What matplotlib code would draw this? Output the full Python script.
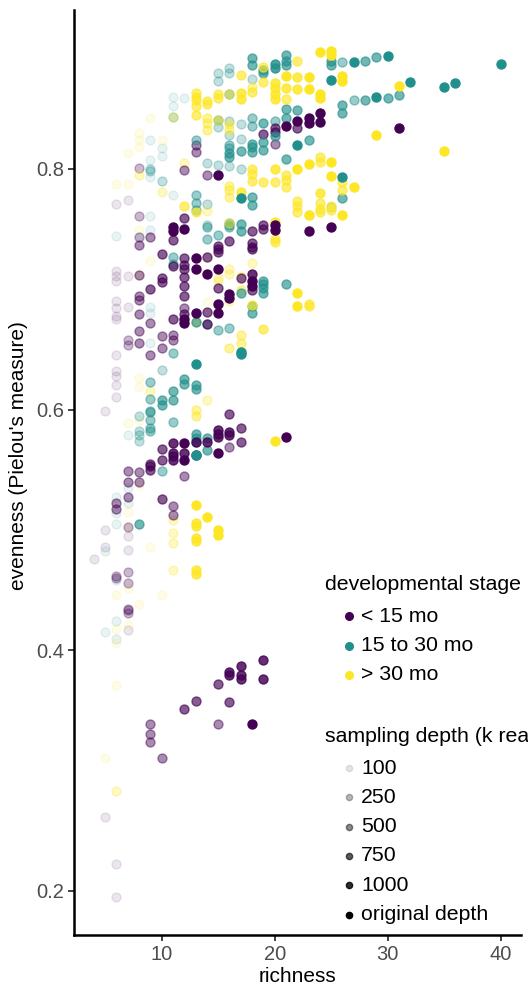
import matplotlib
matplotlib.use("Agg")
import matplotlib.pyplot as plt
from matplotlib.lines import Line2D
import pandas as pd

plt.rcParams["font.family"] = ["Liberation Sans", "DejaVu Sans"]

# (richness, evenness, sampling depth), one list per stage
pts_lt15 = [
    (5, 0.261, "100"), (6, 0.222, "100"), (6, 0.195, "100"), (7, 0.433, "250"), (7, 0.431, "250"), (7, 0.417, "100"),
    (9, 0.339, "500"), (9, 0.330, "500"), (9, 0.324, "500"), (10, 0.310, "500"), (12, 0.351, "750"), (13, 0.358, "750"),
    (15, 0.372, "750"), (15, 0.339, "500"), (16, 0.382, "1000"), (16, 0.379, "1000"), (16, 0.357, "750"),
    (17, 0.387, "1000"), (17, 0.379, "1000"), (17, 0.376, "1000"), (18, 0.339, "orig"), (19, 0.392, "1000"), (19, 0.376, "1000"),
    (4, 0.476, "100"), (5, 0.486, "100"), (5, 0.500, "100"), (5, 0.599, "100"),
    (6, 0.460, "250"), (6, 0.462, "250"), (6, 0.517, "500"), (6, 0.522, "500"),
    (7, 0.434, "250"), (7, 0.456, "250"), (7, 0.465, "250"), (7, 0.483, "100"), (7, 0.495, "100"), (7, 0.502, "250"),
    (7, 0.527, "500"), (7, 0.540, "500"), (7, 0.549, "500"), (8, 0.540, "500"), (8, 0.548, "500"),
    (9, 0.550, "750"), (9, 0.553, "750"), (9, 0.555, "750"), (10, 0.526, "750"), (10, 0.558, "750"), (10, 0.567, "750"),
    (11, 0.512, "500"), (11, 0.520, "500"), (11, 0.558, "1000"), (11, 0.561, "1000"), (11, 0.564, "1000"), (11, 0.572, "1000"),
    (12, 0.545, "500"), (12, 0.558, "orig"), (12, 0.564, "1000"), (12, 0.572, "orig"),
    (13, 0.562, "1000"), (13, 0.573, "1000"), (14, 0.573, "1000"),
    (15, 0.564, "orig"), (15, 0.577, "1000"), (15, 0.580, "1000"), (15, 0.583, "1000"),
    (16, 0.569, "500"), (16, 0.579, "1000"), (16, 0.581, "1000"), (16, 0.596, "750"),
    (17, 0.573, "750"), (17, 0.585, "750"), (21, 0.577, "orig"),
    (6, 0.610, "100"), (6, 0.620, "100"), (6, 0.628, "100"), (6, 0.632, "100"), (6, 0.645, "100"), (6, 0.675, "100"),
    (6, 0.678, "100"), (6, 0.684, "100"), (6, 0.690, "100"), (6, 0.707, "100"), (6, 0.711, "100"), (6, 0.715, "100"),
    (7, 0.654, "250"), (7, 0.658, "250"), (7, 0.685, "100"), (7, 0.711, "100"),
    (8, 0.655, "500"), (8, 0.665, "500"), (8, 0.679, "500"), (8, 0.691, "500"), (8, 0.694, "500"), (8, 0.712, "500"),
    (8, 0.737, "500"), (8, 0.743, "250"),
    (9, 0.645, "500"), (9, 0.672, "500"), (9, 0.700, "750"), (9, 0.743, "500"),
    (10, 0.651, "500"), (10, 0.661, "500"), (10, 0.706, "750"), (10, 0.709, "750"), (10, 0.729, "750"),
    (11, 0.658, "500"), (11, 0.662, "500"), (11, 0.675, "750"), (11, 0.719, "750"), (11, 0.741, "750"),
    (11, 0.748, "orig"), (11, 0.752, "orig"),
    (12, 0.672, "orig"), (12, 0.675, "orig"), (12, 0.679, "750"), (12, 0.684, "500"), (12, 0.694, "750"), (12, 0.703, "750"),
    (12, 0.710, "750"), (12, 0.717, "750"), (12, 0.720, "750"), (12, 0.726, "750"), (12, 0.750, "orig"),
    (13, 0.680, "orig"), (13, 0.717, "orig"), (13, 0.726, "orig"),
    (14, 0.671, "750"), (14, 0.681, "750"), (14, 0.713, "orig"), (14, 0.727, "750"),
    (15, 0.680, "orig"), (15, 0.688, "orig"), (15, 0.701, "750"), (15, 0.717, "orig"), (15, 0.731, "750"),
    (15, 0.733, "750"), (15, 0.736, "750"),
    (16, 0.693, "orig"), (16, 0.696, "orig"), (16, 0.740, "750"), (17, 0.709, "750"),
    (18, 0.699, "750"), (18, 0.703, "orig"), (18, 0.707, "orig"), (18, 0.713, "1000"), (18, 0.733, "750"),
    (18, 0.735, "750"), (18, 0.738, "750"), (18, 0.748, "750"),
    (19, 0.750, "750"), (19, 0.753, "750"), (20, 0.749, "orig"), (20, 0.753, "orig"), (23, 0.748, "orig"), (25, 0.752, "orig"),
    (6, 0.771, "100"), (7, 0.774, "100"), (8, 0.761, "250"), (8, 0.801, "250"),
    (12, 0.759, "750"), (12, 0.799, "500"), (13, 0.814, "500"), (13, 0.820, "500"), (14, 0.795, "500"), (15, 0.795, "orig"),
    (19, 0.829, "750"), (20, 0.821, "500"), (20, 0.831, "750"), (20, 0.834, "750"), (21, 0.836, "orig"),
    (22, 0.834, "750"), (22, 0.840, "orig"), (23, 0.838, "orig"), (23, 0.842, "orig"), (23, 0.762, "100"),
    (24, 0.839, "orig"), (24, 0.846, "orig"), (31, 0.834, "orig"),
]

pts_15to30 = [
    (5, 0.415, "100"), (6, 0.409, "100"), (6, 0.424, "100"),
    (5, 0.482, "100"), (6, 0.458, "100"), (6, 0.505, "100"), (6, 0.514, "100"), (6, 0.527, "100"),
    (7, 0.522, "100"), (7, 0.535, "100"), (7, 0.579, "100"),
    (8, 0.505, "750"), (8, 0.574, "250"), (8, 0.579, "250"), (8, 0.582, "250"), (8, 0.595, "250"),
    (9, 0.582, "500"), (9, 0.585, "500"), (9, 0.591, "500"), (9, 0.598, "500"),
    (10, 0.549, "500"), (11, 0.590, "500"),
    (13, 0.562, "orig"), (13, 0.573, "750"), (13, 0.576, "750"), (13, 0.580, "750"),
    (14, 0.566, "750"), (14, 0.576, "750"),
    (6, 0.744, "100"), (8, 0.743, "100"),
    (9, 0.599, "500"), (9, 0.609, "500"), (9, 0.623, "500"), (9, 0.655, "100"), (9, 0.680, "100"), (9, 0.685, "100"), (9, 0.749, "100"),
    (10, 0.604, "750"), (10, 0.608, "750"), (10, 0.633, "250"),
    (11, 0.608, "750"), (11, 0.615, "750"), (11, 0.647, "500"), (11, 0.721, "500"), (11, 0.727, "500"),
    (12, 0.621, "750"), (12, 0.625, "750"),
    (13, 0.617, "750"), (13, 0.620, "750"), (13, 0.638, "orig"), (13, 0.673, "750"),
    (14, 0.671, "500"), (14, 0.742, "500"), (14, 0.752, "500"), (15, 0.666, "500"), (15, 0.745, "500"),
    (16, 0.668, "500"), (16, 0.753, "500"),
    (17, 0.646, "orig"), (17, 0.648, "orig"), (17, 0.697, "750"), (17, 0.748, "750"),
    (18, 0.680, "750"), (18, 0.686, "750"),
    (19, 0.697, "750"), (19, 0.701, "750"), (19, 0.704, "750"), (19, 0.707, "750"), (21, 0.704, "750"),
    (9, 0.761, "100"), (9, 0.793, "100"), (9, 0.798, "250"), (9, 0.800, "250"), (9, 0.807, "100"), (9, 0.824, "100"),
    (10, 0.790, "250"), (10, 0.811, "100"), (10, 0.817, "100"),
    (11, 0.778, "100"), (11, 0.843, "250"), (11, 0.852, "100"), (11, 0.860, "100"), (12, 0.859, "100"),
    (13, 0.766, "500"), (13, 0.772, "500"), (13, 0.778, "500"), (13, 0.824, "500"),
    (14, 0.753, "250"), (14, 0.771, "250"), (14, 0.805, "250"),
    (15, 0.803, "250"), (15, 0.835, "250"), (15, 0.841, "500"), (15, 0.873, "250"), (15, 0.880, "250"),
    (16, 0.752, "500"), (16, 0.755, "500"), (16, 0.802, "250"), (16, 0.810, "750"), (16, 0.813, "750"), (16, 0.817, "500"),
    (16, 0.820, "500"), (16, 0.828, "250"), (16, 0.840, "250"), (16, 0.862, "500"), (16, 0.880, "250"), (16, 0.884, "250"),
    (17, 0.754, "750"), (17, 0.776, "orig"), (17, 0.800, "250"), (17, 0.815, "750"), (17, 0.825, "250"), (17, 0.837, "250"),
    (18, 0.770, "750"), (18, 0.777, "750"), (18, 0.814, "750"), (18, 0.818, "750"), (18, 0.821, "750"), (18, 0.836, "500"),
    (18, 0.842, "500"), (18, 0.875, "250"), (18, 0.886, "750"), (18, 0.892, "750"),
    (19, 0.816, "750"), (19, 0.822, "750"), (19, 0.838, "750"), (19, 0.880, "750"), (19, 0.882, "750"),
    (20, 0.827, "750"), (20, 0.840, "500"), (20, 0.884, "1000"), (20, 0.887, "1000"),
    (21, 0.808, "750"), (21, 0.842, "750"), (21, 0.850, "750"), (21, 0.886, "750"), (21, 0.890, "750"), (21, 0.895, "750"),
    (22, 0.820, "orig"), (22, 0.849, "750"), (23, 0.824, "750"),
    (25, 0.768, "250"), (25, 0.874, "orig"), (25, 0.886, "750"), (25, 0.890, "750"),
    (26, 0.776, "750"), (26, 0.793, "orig"), (26, 0.846, "750"), (26, 0.853, "750"), (26, 0.889, "500"),
    (27, 0.857, "500"), (27, 0.889, "orig"), (28, 0.857, "750"), (28, 0.890, "750"),
    (29, 0.860, "orig"), (29, 0.893, "750"), (30, 0.859, "750"), (30, 0.894, "orig"),
    (31, 0.861, "750"), (32, 0.872, "orig"), (35, 0.868, "orig"), (36, 0.871, "orig"), (40, 0.887, "orig"),
]

pts_gt30 = [
    (5, 0.310, "100"), (6, 0.283, "250"), (6, 0.371, "100"), (6, 0.406, "100"), (6, 0.418, "100"), (7, 0.421, "100"), (8, 0.438, "100"),
    (6, 0.446, "100"), (7, 0.452, "100"), (7, 0.502, "100"), (7, 0.515, "100"), (7, 0.589, "100"),
    (8, 0.537, "100"), (8, 0.591, "100"), (9, 0.486, "100"), (10, 0.446, "100"),
    (11, 0.467, "250"), (11, 0.489, "250"), (11, 0.497, "250"), (11, 0.508, "250"),
    (13, 0.463, "1000"), (13, 0.467, "1000"), (13, 0.491, "1000"), (13, 0.493, "1000"), (13, 0.503, "1000"), (13, 0.506, "1000"),
    (13, 0.521, "orig"), (13, 0.595, "500"),
    (14, 0.511, "orig"), (15, 0.496, "orig"), (15, 0.500, "orig"), (20, 0.574, "orig"),
    (8, 0.619, "100"), (8, 0.626, "100"), (8, 0.712, "100"), (8, 0.749, "100"), (9, 0.615, "250"), (9, 0.723, "100"),
    (13, 0.600, "500"), (13, 0.673, "500"),
    (14, 0.608, "250"), (14, 0.689, "100"), (14, 0.727, "100"), (15, 0.707, "250"), (15, 0.709, "250"),
    (16, 0.651, "500"), (16, 0.690, "250"), (16, 0.713, "250"), (16, 0.717, "250"),
    (17, 0.648, "500"), (17, 0.655, "500"), (17, 0.662, "500"), (17, 0.699, "500"), (17, 0.711, "250"),
    (18, 0.687, "750"), (18, 0.722, "250"), (19, 0.667, "750"), (20, 0.739, "750"), (20, 0.742, "750"),
    (22, 0.686, "orig"), (22, 0.697, "orig"), (23, 0.686, "750"), (23, 0.688, "750"),
    (6, 0.787, "100"), (7, 0.787, "100"), (7, 0.813, "100"), (8, 0.795, "250"), (8, 0.818, "100"), (8, 0.824, "100"),
    (8, 0.830, "100"), (9, 0.842, "100"),
    (10, 0.781, "250"), (10, 0.824, "100"), (11, 0.843, "250"), (12, 0.769, "750"), (12, 0.805, "250"),
    (13, 0.764, "750"), (13, 0.845, "750"), (13, 0.852, "750"), (13, 0.857, "750"), (13, 0.860, "750"), (13, 0.863, "750"),
    (14, 0.765, "250"), (14, 0.832, "500"), (14, 0.838, "500"), (14, 0.842, "500"), (14, 0.854, "750"), (14, 0.856, "750"),
    (15, 0.841, "500"), (15, 0.859, "750"), (15, 0.862, "750"),
    (16, 0.755, "500"), (16, 0.777, "500"), (16, 0.782, "500"), (16, 0.786, "500"), (16, 0.832, "500"), (16, 0.837, "500"),
    (16, 0.862, "500"),
    (17, 0.781, "1000"), (17, 0.858, "1000"), (17, 0.863, "1000"), (17, 0.878, "750"),
    (18, 0.790, "750"), (18, 0.796, "750"), (18, 0.800, "750"), (18, 0.864, "750"), (18, 0.868, "500"),
    (19, 0.789, "750"), (19, 0.872, "750"), (19, 0.885, "750"),
    (20, 0.756, "1000"), (20, 0.789, "750"), (20, 0.800, "1000"), (20, 0.858, "1000"), (20, 0.862, "1000"),
    (20, 0.867, "1000"), (20, 0.871, "1000"),
    (21, 0.785, "750"), (21, 0.791, "750"), (21, 0.795, "750"), (21, 0.858, "750"), (21, 0.867, "1000"), (21, 0.877, "orig"),
    (22, 0.764, "750"), (22, 0.769, "750"), (22, 0.773, "750"), (22, 0.800, "orig"), (22, 0.866, "1000"),
    (22, 0.876, "1000"), (22, 0.890, "750"),
    (23, 0.762, "orig"), (23, 0.804, "orig"), (23, 0.866, "orig"), (23, 0.876, "orig"),
    (24, 0.764, "750"), (24, 0.767, "750"), (24, 0.772, "750"), (24, 0.780, "1000"), (24, 0.806, "750"), (24, 0.810, "750"),
    (24, 0.859, "orig"), (24, 0.862, "orig"), (24, 0.897, "orig"),
    (25, 0.766, "750"), (25, 0.769, "750"), (25, 0.794, "orig"), (25, 0.806, "orig"), (25, 0.895, "orig"), (25, 0.898, "orig"),
    (26, 0.762, "orig"), (26, 0.782, "750"), (26, 0.789, "750"), (26, 0.873, "orig"), (26, 0.877, "orig"),
    (27, 0.785, "orig"), (29, 0.828, "orig"), (31, 0.869, "orig"), (35, 0.815, "orig"),
]

stage_labels = ["< 15 mo", "15 to 30 mo", "> 30 mo"]
stage_colors = ["#440154", "#21908C", "#FDE725"]
depth_levels = ["100", "250", "500", "750", "1000", "orig"]
depth_labels = ["100", "250", "500", "750", "1000", "original depth"]
depth_alpha = [0.1, 0.28, 0.46, 0.64, 0.82, 1.0]

frames = []
for lab, pts in zip(stage_labels, [pts_lt15, pts_15to30, pts_gt30]):
    d = pd.DataFrame(pts, columns=["richness", "evenness", "depth"])
    d["stage"] = lab
    frames.append(d)
df = pd.concat(frames, ignore_index=True)

W, H = 528, 988
fig = plt.figure(figsize=(W / 100, H / 100), dpi=100)
ax = fig.add_axes([74 / W, 1 - 935 / H, 447 / W, 925 / H])

for dl, a in zip(depth_levels, depth_alpha):
    for lab, col in zip(stage_labels, stage_colors):
        sub = df[(df["depth"] == dl) & (df["stage"] == lab)]
        ax.scatter(sub["richness"], sub["evenness"], s=42, color=col, alpha=a,
                   edgecolors=col, linewidths=1.0, zorder=2)

ax.set_xlim(2.24, 41.8)
ax.set_ylim(0.1633, 0.932)
ax.set_xticks([10, 20, 30, 40])
ax.set_yticks([0.2, 0.4, 0.6, 0.8])
ax.set_yticklabels(["0.2", "0.4", "0.6", "0.8"])
for s in ["top", "right"]:
    ax.spines[s].set_visible(False)
for s in ["left", "bottom"]:
    ax.spines[s].set_linewidth(1.8)
    ax.spines[s].set_color("black")
ax.tick_params(length=4, width=1.3, color="#333333", labelcolor="#4D4D4D",
               labelsize=14.5, pad=3)
ax.set_xlabel("richness", fontsize=15, labelpad=2)
ax.set_ylabel("evenness (Pielou's measure)", fontsize=15)
ax.yaxis.set_label_coords(-0.102, 0.518)


def fx(px):
    return px / W


def fy(py):
    return 1 - py / H


# legends drawn inside the panel, as in the reference
fig.text(fx(325), fy(585), "developmental stage", fontsize=15.3, va="center", ha="left")
for i, (lab, col) in enumerate(zip(stage_labels, stage_colors)):
    y = 616 + 29.5 * i
    fig.add_artist(Line2D([fx(349)], [fy(y)], marker="o", ms=5.5, color=col, linestyle="none",
                          transform=fig.transFigure))
    fig.text(fx(361), fy(y), lab, fontsize=15.3, va="center", ha="left")

fig.text(fx(325), fy(737), "sampling depth (k reads)", fontsize=15.3, va="center", ha="left")
for i, (lab, a) in enumerate(zip(depth_labels, depth_alpha)):
    y = 768 + 29.3 * i
    fig.add_artist(Line2D([fx(349)], [fy(y)], marker="o", ms=4.5, color="black", alpha=a,
                          markeredgewidth=1.0, linestyle="none", transform=fig.transFigure))
    fig.text(fx(361), fy(y), lab, fontsize=15.3, va="center", ha="left")

fig.savefig("out.png", dpi=100)
